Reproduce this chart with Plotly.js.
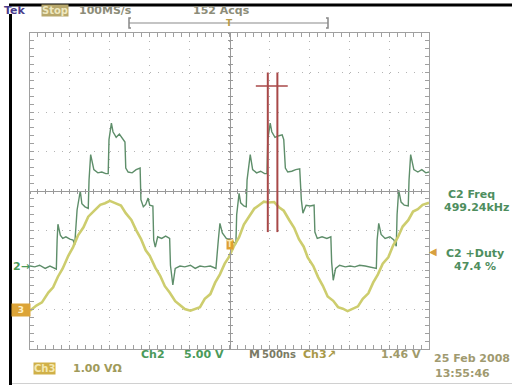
<!DOCTYPE html>
<html><head><meta charset="utf-8">
<script src="https://cdn.plot.ly/plotly-3.0.1.min.js"></script>
<style>html,body{margin:0;padding:0;background:#fff;overflow:hidden}#chart{width:512px;height:385px;}</style>
</head><body><div id="chart"></div>
<script>
// ---- Channel 2 (green, stepped waveform), time in µs, volts ----
const ch2Time = [-2.50,-2.44,-2.38,-2.31,-2.25,-2.17,
 -2.16,-2.15,-2.12,-2.09,-2.05,-2.00,-1.96,-1.94,
 -1.91,-1.87,-1.85,-1.81,-1.77,
 -1.76,-1.74,-1.70,-1.65,-1.60,-1.55,-1.52,
 -1.51,-1.48,-1.46,-1.42,-1.38,-1.35,-1.31,
 -1.30,-1.27,-1.22,-1.17,-1.12,
 -1.11,-1.08,-1.05,-1.02,-1.00,-0.96,
 -0.95,-0.93,-0.90,-0.85,-0.80,-0.75,
 -0.74,-0.71,-0.68,-0.62,-0.56,-0.49,-0.43,-0.37,-0.31,-0.24,-0.17,
 -0.14,-0.12,-0.09,-0.04,0.01,0.06,0.08,
 0.09,0.12,0.14,0.18,0.21,
 0.22,0.26,0.29,0.34,0.39,0.44,0.47,
 0.48,0.51,0.53,0.57,0.62,0.66,0.68,
 0.70,0.73,0.78,0.83,0.88,
 0.90,0.92,0.96,1.01,1.06,
 1.07,1.10,1.16,1.22,1.27,
 1.28,1.30,1.33,1.38,1.45,1.51,1.57,1.63,1.70,1.76,1.84,
 1.85,1.87,1.90,1.95,2.01,2.06,2.09,
 2.10,2.12,2.15,2.19,2.24,
 2.25,2.27,2.31,2.36,2.41,2.46,2.50];
const ch2Volts = [0.0,-0.1,0.1,-0.3,0.0,-0.4,
 3.3,5.3,3.9,3.5,3.7,3.4,3.3,2.7,
 7.1,9.5,7.9,7.5,7.3,
 10.9,14.1,12.2,11.8,11.9,11.7,11.7,
 16.0,18.1,17.0,16.3,16.7,16.2,15.7,
 12.4,11.9,11.8,12.2,12.4,
 8.4,7.5,7.8,8.6,7.7,7.6,
 3.3,2.4,3.7,3.5,3.8,3.5,
 0.1,-2.4,-0.3,0.0,-0.1,0.1,-0.3,0.0,-0.1,0.0,-0.3,
 3.3,5.4,4.2,3.5,3.3,3.0,2.8,
 6.5,9.2,8.0,7.6,7.5,
 10.9,14.1,12.2,11.8,12.0,11.7,11.7,
 16.0,18.1,17.0,16.3,16.5,16.6,16.0,
 12.4,11.9,12.0,12.2,12.3,
 8.4,6.7,7.7,7.6,7.7,
 4.3,3.5,3.7,3.5,3.7,
 0.5,-1.8,-0.3,0.1,-0.1,0.0,-0.1,0.1,0.0,-0.1,-0.3,
 3.3,5.4,4.0,3.5,3.7,3.3,2.5,
 6.5,9.6,8.1,7.7,7.6,
 10.9,14.1,12.2,11.9,12.2,11.8,11.9];

// ---- Channel 3 (yellow, sinusoid), time in µs, volts ----
const ch3Time = [-2.50,-2.42,-2.35,-2.27,-2.21,-2.15,-2.09,-2.02,-1.96,-1.90,-1.83,-1.77,-1.70,-1.62,-1.56,-1.50,
 -1.44,-1.36,-1.30,-1.23,-1.17,-1.11,-1.05,-1.00,-0.93,-0.87,-0.81,-0.75,-0.68,-0.62,-0.56,-0.49,
 -0.43,-0.37,-0.31,-0.24,-0.18,-0.12,-0.06,-0.01,0.06,0.12,0.18,0.24,0.31,0.37,0.43,0.49,
 0.56,0.62,0.68,0.75,0.81,0.87,0.93,0.98,1.05,1.11,1.17,1.23,1.30,1.36,1.42,1.48,
 1.55,1.61,1.67,1.74,1.80,1.86,1.92,1.99,2.05,2.11,2.17,2.24,2.30,2.36,2.42,2.50];
const ch3Volts = [-0.03,0.10,0.18,0.43,0.56,0.83,1.04,1.36,1.58,1.87,2.08,2.35,2.49,2.65,2.69,2.75,
 2.70,2.63,2.44,2.27,2.01,1.79,1.50,1.36,1.06,0.86,0.59,0.43,0.21,0.12,0.01,-0.03,
 0.02,0.06,0.27,0.39,0.68,0.89,1.16,1.32,1.62,1.83,2.15,2.33,2.55,2.64,2.73,2.71,
 2.72,2.59,2.50,2.26,2.07,1.78,1.59,1.32,1.10,0.82,0.60,0.33,0.22,0.06,0.02,-0.04,
 0.02,0.08,0.27,0.41,0.68,0.89,1.16,1.32,1.62,1.83,2.10,2.26,2.48,2.54,2.65,2.70];

// ---- Settings ----
const ch2VoltsPerDiv = 5.0, ch2GroundDiv = -1.9;
const ch3VoltsPerDiv = 1.0, ch3GroundDiv = -3.0;
const triggerLevel = 1.46;
const cursorTimes = [0.48, 0.60];

const PL = 30, PT = 33, PW = 399, PH = 316;
const px = x => (x - PL) / PW;
const py = y => (PT + PH - y) / PH;

const FONT = 'DejaVu Sans, sans-serif';
const GRID = '#b4b4b4';

function ann(text, x, y, color, opts) {
  return Object.assign({text: '<b>' + text + '</b>', x: px(x), y: py(y), xref: 'paper', yref: 'paper',
    showarrow: false, xanchor: 'center', yanchor: 'middle',
    font: {family: FONT, size: 11, color: color}}, opts || {});
}

const traces = [
  {x: [], y: [], xaxis: 'x', yaxis: 'y', type: 'scatter', mode: 'lines', hoverinfo: 'skip', showlegend: false},
  {x: [], y: [], xaxis: 'x2', yaxis: 'y', type: 'scatter', mode: 'lines', showlegend: false},
  {x: [], y: [], xaxis: 'x3', yaxis: 'y', type: 'scatter', mode: 'lines', showlegend: false},
  {x: [], y: [], xaxis: 'x', yaxis: 'y4', type: 'scatter', mode: 'lines', showlegend: false},
  {x: [], y: [], xaxis: 'x', yaxis: 'y5', type: 'scatter', mode: 'lines', showlegend: false},
  {x: ch2Time, y: ch2Volts, xaxis: 'x', yaxis: 'y2', type: 'scatter', mode: 'lines',
   line: {color: '#5e8e6a', width: 1.4}, showlegend: false},
  {x: ch3Time, y: ch3Volts, xaxis: 'x', yaxis: 'y3', type: 'scatter', mode: 'lines',
   line: {color: '#cdcd6e', width: 2.6}, showlegend: false}
];

const crossX = (ticks) => ({overlaying: 'x', matches: 'x', anchor: 'free', position: 0.5,
  showline: true, linecolor: '#999', linewidth: 1, ticks: ticks, ticklen: 2, tickcolor: '#999',
  dtick: 0.1, tick0: 0, showticklabels: false, showgrid: false, zeroline: false});
const crossY = (ticks) => ({overlaying: 'y', matches: 'y', anchor: 'free', position: 0.5,
  showline: true, linecolor: '#999', linewidth: 1, ticks: ticks, ticklen: 2, tickcolor: '#999',
  dtick: 0.2, tick0: 0, showticklabels: false, showgrid: false, zeroline: false});

const layout = {
  width: 512, height: 385,
  margin: {l: PL, r: 512 - PL - PW, t: PT, b: 385 - PT - PH, pad: 0},
  paper_bgcolor: '#ffffff', plot_bgcolor: '#ffffff',
  showlegend: false,
  xaxis: {range: [-2.5, 2.5], dtick: 0.5, tick0: 0, showgrid: true, gridcolor: GRID, griddash: '1px,6.9px',
    gridwidth: 1, zeroline: false, showline: true, mirror: 'allticks', linecolor: '#a0a0a0',
    ticks: 'inside', ticklen: 4, tickcolor: '#a0a0a0', showticklabels: false,
    minor: {dtick: 0.1, ticks: 'inside', ticklen: 2, tickcolor: '#a0a0a0', showgrid: false}},
  yaxis: {range: [-4, 4], dtick: 1, tick0: 0, showgrid: true, gridcolor: GRID, griddash: '1px,7px',
    gridwidth: 1, zeroline: false, showline: true, mirror: 'allticks', linecolor: '#a0a0a0',
    ticks: 'inside', ticklen: 4, tickcolor: '#a0a0a0', showticklabels: false,
    minor: {dtick: 0.2, ticks: 'inside', ticklen: 2, tickcolor: '#a0a0a0', showgrid: false}},
  xaxis2: crossX('outside'),
  xaxis3: crossX('inside'),
  yaxis4: crossY('outside'),
  yaxis5: crossY('inside'),
  yaxis2: {overlaying: 'y', visible: false,
    range: [(-4 - ch2GroundDiv) * ch2VoltsPerDiv, (4 - ch2GroundDiv) * ch2VoltsPerDiv]},
  yaxis3: {overlaying: 'y', visible: false,
    range: [(-4 - ch3GroundDiv) * ch3VoltsPerDiv, (4 - ch3GroundDiv) * ch3VoltsPerDiv]},
  shapes: [
    // screen frame
    {type: 'line', xref: 'paper', yref: 'paper', x0: px(10.5), x1: px(10.5), y0: py(14), y1: py(385), line: {color: '#000', width: 3}},
    {type: 'line', xref: 'paper', yref: 'paper', x0: px(9), x1: px(512), y0: py(5), y1: py(5), line: {color: '#000', width: 3}},
    {type: 'line', xref: 'paper', yref: 'paper', x0: px(12), x1: px(512), y0: py(383.5), y1: py(383.5), line: {color: '#d0d0d0', width: 1}},
    // record bracket
    {type: 'line', xref: 'paper', yref: 'paper', x0: px(129), x1: px(328), y0: py(23), y1: py(23), line: {color: '#b0b0b0', width: 1.5}},
    {type: 'path', xref: 'paper', yref: 'paper', path: 'M' + px(131) + ',' + py(18) + ' L' + px(129) + ',' + py(18) + ' L' + px(129) + ',' + py(28) + ' L' + px(131) + ',' + py(28),
     line: {color: '#888', width: 1.5}},
    {type: 'path', xref: 'paper', yref: 'paper', path: 'M' + px(326) + ',' + py(18) + ' L' + px(328) + ',' + py(18) + ' L' + px(328) + ',' + py(28) + ' L' + px(326) + ',' + py(28),
     line: {color: '#888', width: 1.5}},
    // cursors
    {type: 'line', xref: 'x', yref: 'y', x0: cursorTimes[0], x1: cursorTimes[0], y0: -1.04, y1: 3.0, line: {color: '#a84848', width: 2}},
    {type: 'line', xref: 'x', yref: 'y', x0: cursorTimes[1], x1: cursorTimes[1], y0: -1.04, y1: 3.0, line: {color: '#a84848', width: 2}},
    {type: 'line', xref: 'x', yref: 'y', x0: cursorTimes[0] - 0.15, x1: cursorTimes[1] + 0.13, y0: 2.66, y1: 2.66, line: {color: '#a84848', width: 1.5}}
  ],
  annotations: [
    ann('Tek', 15, 10, '#4a3c8c', {font: {family: FONT, size: 11, color: '#4a3c8c'}}),
    ann('Stop', 55, 10, '#efe8c0', {bgcolor: '#b8a86c', borderpad: 0, font: {family: FONT, size: 10, color: '#efe8c0'}}),
    ann('100MS/s', 105, 10, '#8c8c78'),
    ann('152 Acqs', 221, 10, '#8c8c78'),
    {text: '<b>T</b>', x: 0, xref: 'x', y: py(23), yref: 'paper', showarrow: false, xanchor: 'center', yanchor: 'middle',
     font: {family: FONT, size: 9, color: '#b89a48'}},
    ann('Ch2', 153, 354, '#4a9a5a'),
    ann('5.00 V', 203.5, 354, '#4a9a5a'),
    ann('M', 247, 354, '#7a7a64', {xanchor: 'left'}),
    ann('500ns', 260, 354, '#7a7a64', {xanchor: 'left', font: {family: FONT, size: 10, color: '#7a7a64'}}),
    ann('Ch3', 301, 354, '#a89848', {xanchor: 'left'}),
    ann('\u2197', 325, 354, '#a89848', {xanchor: 'left'}),
    ann('1.46 V', 401, 354, '#a09a6a'),
    ann('25 Feb 2008', 472, 358, '#a09a70'),
    ann('13:55:46', 462.5, 373, '#a09a70'),
    ann('Ch3', 44.5, 369, '#f4e8b0', {bgcolor: '#d0b048', borderpad: 0, font: {family: FONT, size: 10, color: '#f4e8b0'}}),
    ann('1.00 V\u03A9', 97, 369, '#a09a5a'),
    ann('C2 Freq', 471, 194, '#4e8e5e'),
    ann('499.24kHz', 476, 207, '#4e8e5e'),
    ann('C2 +Duty', 475, 254, '#4e8e5e'),
    ann('47.4 %', 475, 266, '#4e8e5e'),
    {text: '<b>2\u2192</b>', xref: 'paper', x: px(21), yref: 'y2', y: 0, showarrow: false, xanchor: 'center', yanchor: 'middle',
     font: {family: FONT, size: 11, color: '#4a9a5a'}},
    {text: '<b>3</b>', xref: 'paper', x: px(21), yref: 'y3', y: 0, showarrow: false, xanchor: 'center', yanchor: 'middle',
     bgcolor: '#dca438', borderpad: 1, width: 16, font: {family: FONT, size: 9, color: '#fff2c8'}},
    {text: '\u25C0', xref: 'paper', x: px(433), yref: 'y3', y: triggerLevel, showarrow: false, xanchor: 'center', yanchor: 'middle',
     font: {family: FONT, size: 10, color: '#d8a040'}},
    {text: '<b>T</b>', xref: 'x', x: 0, yref: 'y3', y: 1.65, showarrow: false, xanchor: 'center', yanchor: 'middle',
     bgcolor: '#e0a030', borderpad: 0, font: {family: FONT, size: 8, color: '#f8e8b0'}}
  ]
};

Plotly.newPlot('chart', traces, layout, {staticPlot: true, displayModeBar: false});
</script>
</body></html>
